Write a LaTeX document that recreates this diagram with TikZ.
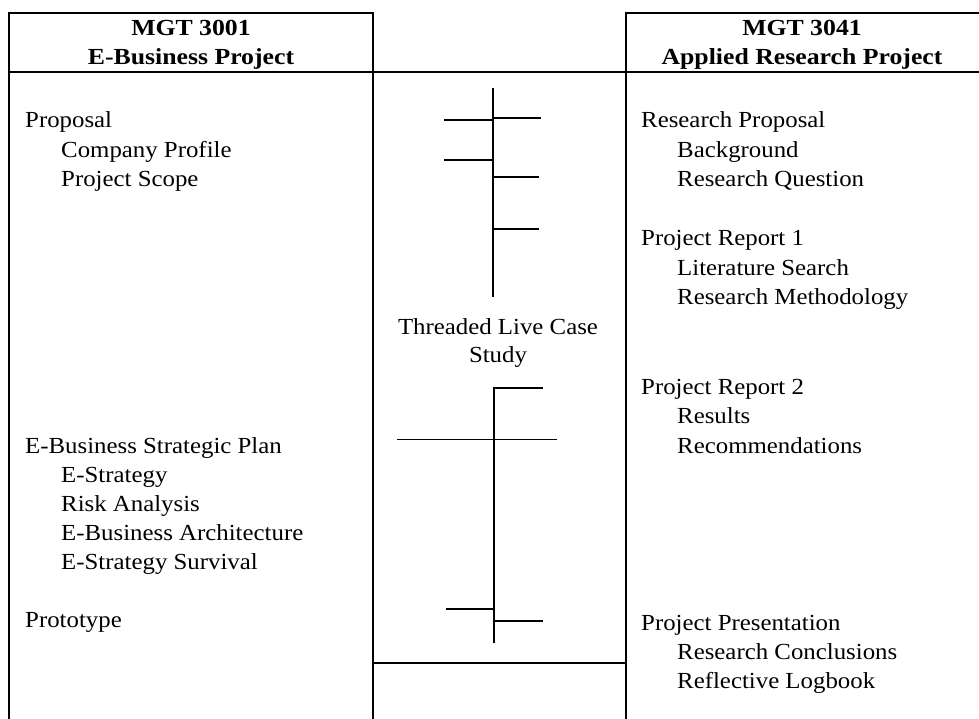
\documentclass[tikz,border=0pt]{standalone}
\usepackage{fontspec}
\setmainfont{Liberation Serif}[FakeStretch=1.08]
\newfontfamily\headfont{Liberation Serif}[FakeStretch=1.12]
\usetikzlibrary{positioning}

\begin{document}
\begin{tikzpicture}[x=1pt, y=-1pt,
  frame/.style={line width=1.8pt},
  thread/.style={line width=1.6pt},
  head/.style={font=\headfont\bfseries\fontsize{23}{28}\selectfont,
    anchor=base, inner sep=0pt},
  item/.style={font=\fontsize{23}{29}\selectfont, anchor=base west, inner sep=0pt},
  mid/.style={font=\fontsize{23}{29}\selectfont, anchor=base, inner sep=0pt}
]
\useasboundingbox (0,0) rectangle (979,719);

% course boxes
\draw[frame] (9,719) -- (9,13) -- (373,13) -- (373,719);
\draw[frame] (979,13) -- (626,13) -- (626,719);
\draw[frame] (9,72) -- (979,72);
\draw[frame] (373,663) -- (626,663);

% headers
\node[head] (hL1) at (191,36) {MGT 3001};
\node[head] (hL2) at (191,65) {E-Business Project};
\node[head] (hR1) at (802,36) {MGT 3041};
\node[head] (hR2) at (802,65) {Applied Research Project};

% MGT 3001 items
\node[item] (prop)  at (25,128) {Proposal};
\node[item] (cprof) at (61,158) {Company Profile};
\node[item] (pscop) at (61,187) {Project Scope};
\node[item] (plan)  at (25,453) {E-Business Strategic Plan};
\node[item] (estr)  at (61,482) {E-Strategy};
\node[item] (risk)  at (61,511) {Risk Analysis};
\node[item] (arch)  at (61,540) {E-Business Architecture};
\node[item] (surv)  at (61,569) {E-Strategy Survival};
\node[item] (proto) at (25,627) {Prototype};

% MGT 3041 items
\node[item] (rprop) at (641,128) {Research Proposal};
\node[item] (bgnd)  at (677,158) {Background};
\node[item] (rques) at (677,187) {Research Question};
\node[item] (rep1)  at (641,246) {Project Report 1};
\node[item] (lit)   at (677,275) {Literature Search};
\node[item] (meth)  at (677,304) {Research Methodology};
\node[item] (rep2)  at (641,394) {Project Report 2};
\node[item] (res)   at (677,423) {Results};
\node[item] (recom) at (677,453) {Recommendations};
\node[item] (pres)  at (641,630) {Project Presentation};
\node[item] (concl) at (677,659) {Research Conclusions};
\node[item] (logb)  at (677,688) {Reflective Logbook};

% threaded case study
\node[mid] (case1) at (498,334) {Threaded Live Case};
\node[mid] (case2) at (498,362) {Study};

\draw[thread] (493,88) -- (493,297);
\draw[thread] (444,120) -- (493,120);
\draw[thread] (493,118) -- (541,118);
\draw[thread] (444,160) -- (493,160);
\draw[thread] (493,177) -- (539,177);
\draw[thread] (493,229) -- (539,229);

\draw[thread] (543,388) -- (494,388) -- (494,643);
\draw[line width=1pt] (397,439) -- (557,439);
\draw[thread] (446,609) -- (494,609);
\draw[thread] (494,621) -- (543,621);
\end{tikzpicture}
\end{document}
